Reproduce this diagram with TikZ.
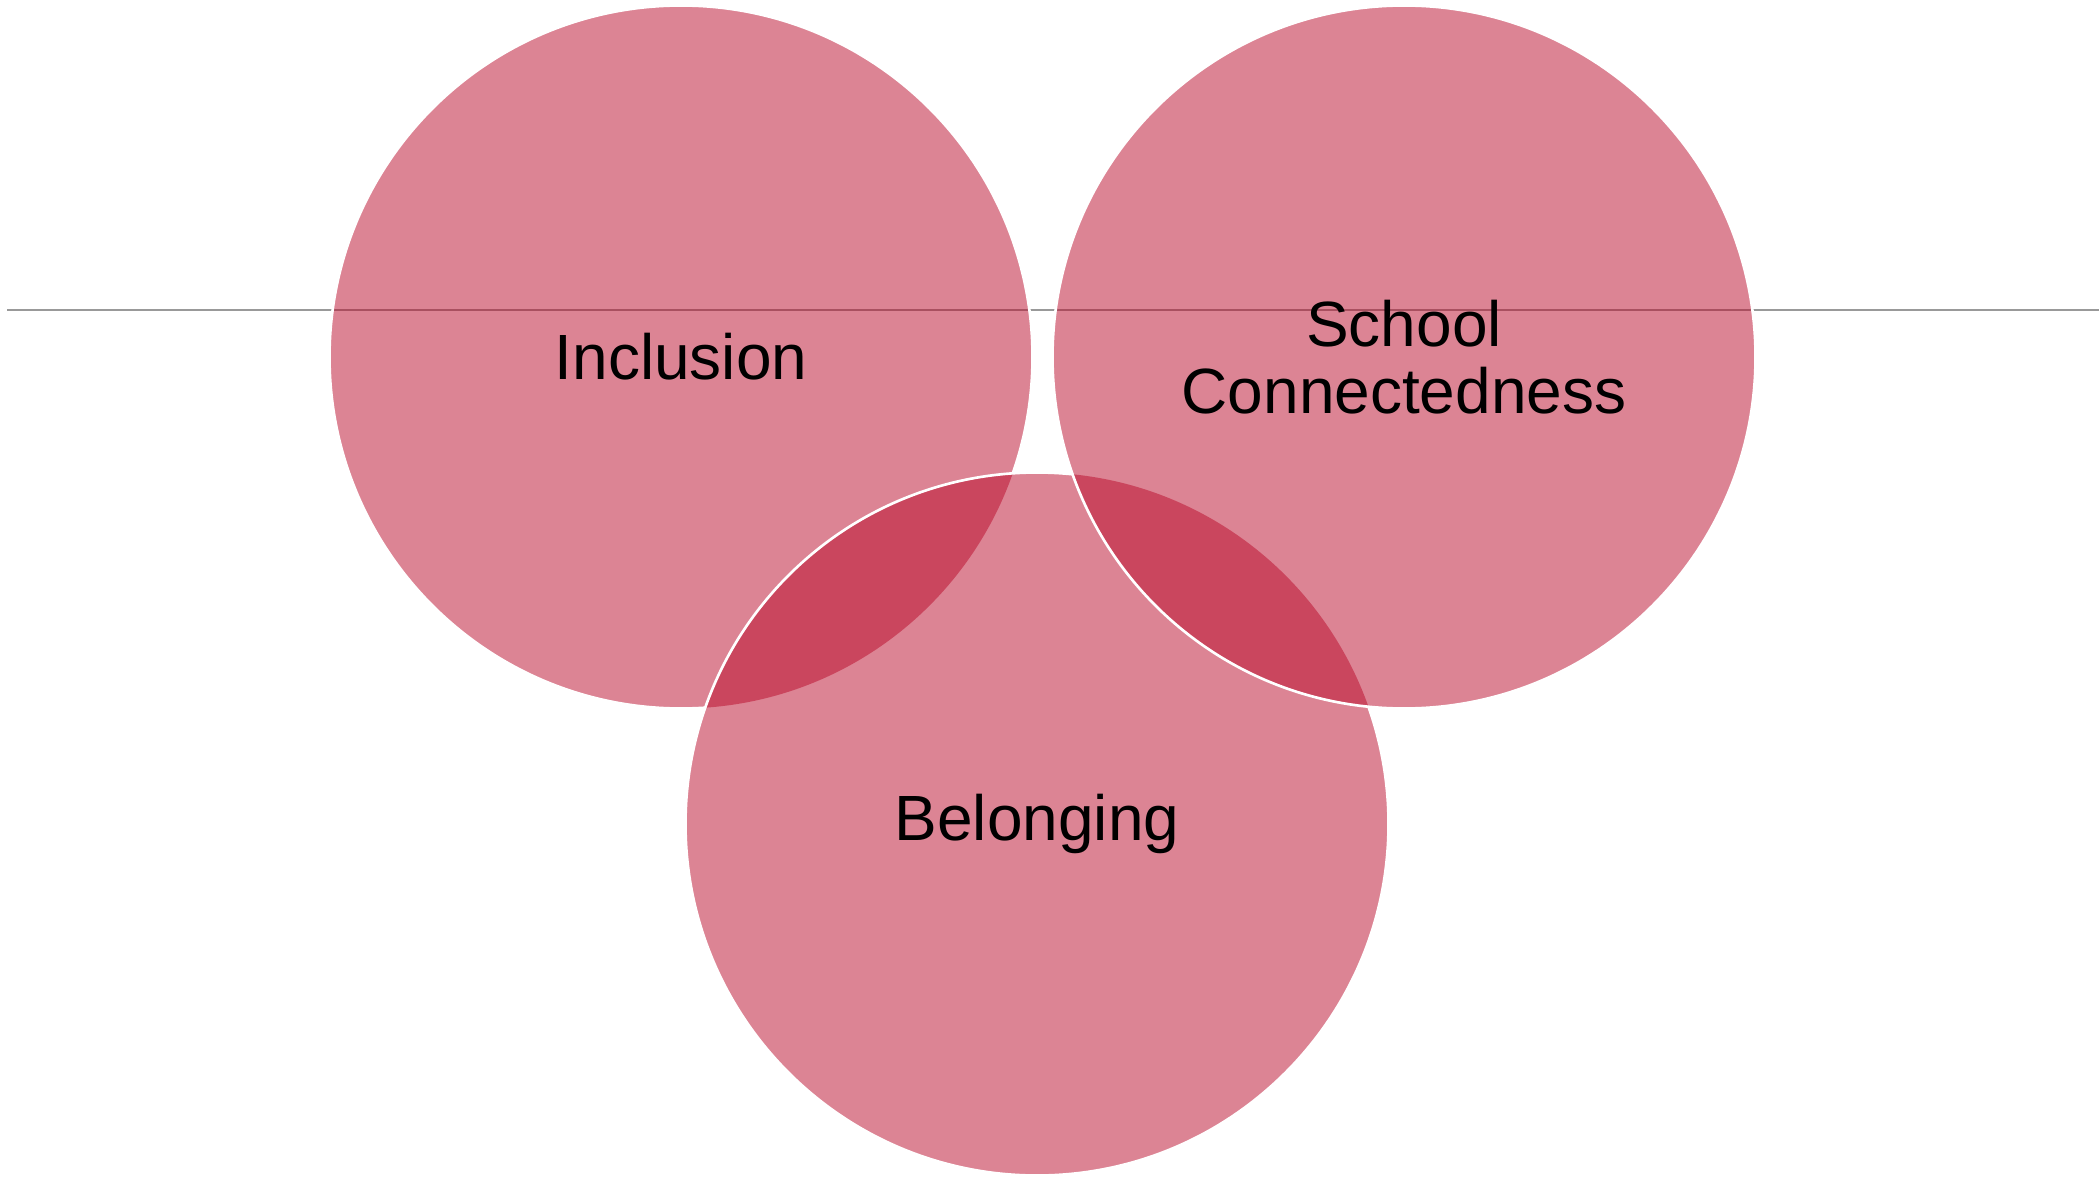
\documentclass[tikz,border=0pt]{standalone}
\usepackage{fontspec}
\setmainfont{Liberation Sans}
\definecolor{vennred}{RGB}{185,9,41}

\begin{document}
\begin{tikzpicture}[
    venn/.style={circle, minimum size=7.03cm, inner sep=0pt, outer sep=0pt, fill=vennred, fill opacity=0.5, text opacity=1, align=center, font=\fontsize{18.2}{19}\selectfont},
    rim/.style={draw=white, line width=0.75pt},
    guide/.style={draw=black!40, line width=0.5pt}
]
    \useasboundingbox (0,0) rectangle (20.99,11.77);

    % Guide line behind the circles
    \coordinate (lineL) at (0.07,8.67);
    \coordinate (lineR) at (20.99,8.67);
    \draw[guide] (lineL) -- (lineR);

    % Circles
    \node[venn] (incl) at (6.81,8.20) {Inclusion};
    \node[venn] (bel) at (10.37,3.53) {Belonging};
    \node[venn] (conn) at (14.04,8.20) {School\\Connectedness};

    % White rims, hidden where a later circle lies on top
    \begin{scope}[even odd rule]
        \clip (0,0) rectangle (20.99,11.77) (bel.center) circle[radius=3.515];
        \draw[rim] (incl.center) circle[radius=3.515];
    \end{scope}
    \begin{scope}[even odd rule]
        \clip (0,0) rectangle (20.99,11.77) (conn.center) circle[radius=3.515];
        \draw[rim] (bel.center) circle[radius=3.515];
    \end{scope}
    \draw[rim] (conn.center) circle[radius=3.515];
\end{tikzpicture}
\end{document}
